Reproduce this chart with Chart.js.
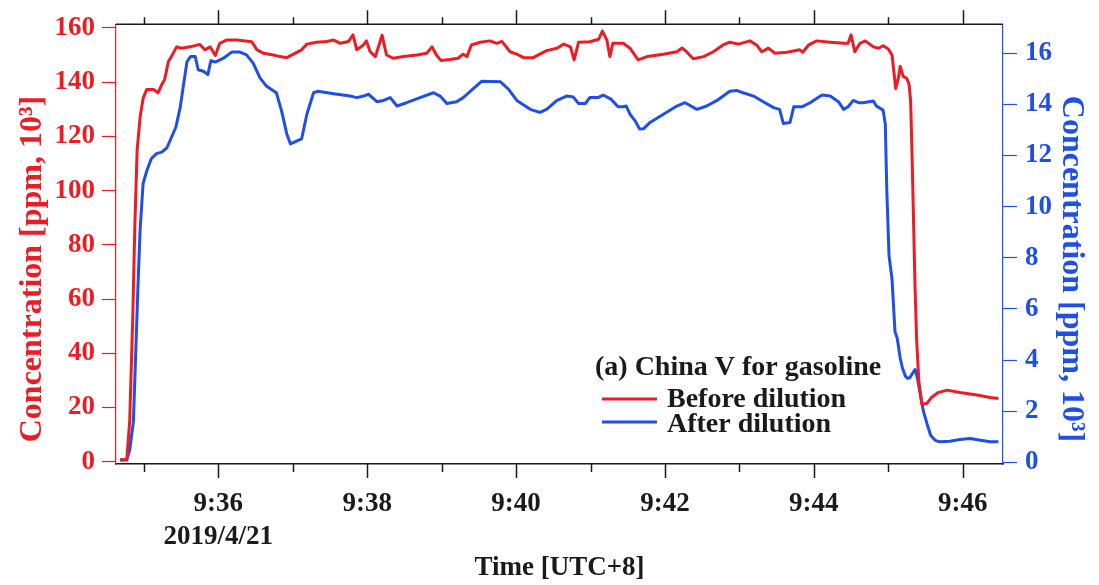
<!DOCTYPE html>
<html><head><meta charset="utf-8">
<script src="https://cdn.jsdelivr.net/npm/chart.js@4.4.1/dist/chart.umd.min.js"></script>
<style>html,body{margin:0;padding:0;background:#fff;}#wrap{width:1099px;height:585px;}</style>
</head><body><div id="wrap"><canvas id="c" width="1099" height="585"></canvas></div>
<script>
// Time in minutes after 09:00 (UTC+8), 2019/4/21
const beforeTime = [34.68,34.77,34.81,34.85,34.88,34.91,34.95,34.99,35.04,35.13,35.19,35.24,35.28,35.33,35.37,35.44,35.51,35.62,35.75,35.82,35.89,35.96,36.02,36.11,36.25,36.45,36.52,36.61,36.74,36.83,36.92,37.03,37.12,37.19,37.32,37.46,37.55,37.64,37.75,37.81,37.86,37.95,37.99,38.04,38.11,38.20,38.26,38.35,38.49,38.67,38.80,38.87,38.93,38.99,39.11,39.22,39.29,39.34,39.40,39.52,39.65,39.74,39.81,39.92,40.01,40.10,40.23,40.32,40.41,40.55,40.64,40.73,40.78,40.84,40.99,41.11,41.16,41.22,41.26,41.30,41.44,41.53,41.64,41.76,41.98,42.16,42.23,42.29,42.38,42.52,42.65,42.78,42.87,42.99,43.14,43.23,43.30,43.39,43.48,43.64,43.81,43.85,43.93,44.04,44.22,44.40,44.46,44.50,44.55,44.62,44.69,44.80,44.87,44.93,45.00,45.05,45.07,45.10,45.14,45.16,45.20,45.25,45.28,45.30,45.32,45.34,45.36,45.38,45.41,45.45,45.52,45.58,45.67,45.79,45.96,46.19,46.37,46.48];
// Before dilution, ppm x10^3 (left axis)
const beforeValue = [0.6,0.6,15,52,88,115,127,134,137.3,137.3,136,139,141,147.6,149.4,153,152.5,153,153.9,151.9,153,149.8,154.3,155.5,155.5,154.9,151.9,150.6,150,149.4,149,150.6,151.9,154,154.7,155,155.5,154.3,155,157.4,151.9,153.7,155.2,151.2,149.4,157.3,150,148.8,149.4,150,150.6,153,150,148,148.3,148.8,150.3,149.4,153.7,154.7,155.2,154.3,155,151.2,150.3,149,149,150.3,151.6,152.5,154,153,148.2,154.7,154.9,155.8,158.8,155.5,149.4,154.3,154.3,152.5,148.2,149.4,150.3,151.2,152.6,151.2,148.6,149.4,151.2,153.7,154.7,154,155.2,153.7,151.2,152.5,150.6,151,151.9,151,153.7,155.2,154.7,154.3,154.3,157.4,151.2,154.3,155.2,153,152.5,153.4,152.2,150,145.2,137.6,142.1,145.8,142.1,141.3,139.1,133,112.4,88,64,45.6,29.8,21.3,21.5,23.7,25.5,26.4,25.5,24.6,23.7,23.3];
const afterTime = [34.68,34.77,34.81,34.86,34.89,34.92,34.95,34.99,35.04,35.10,35.17,35.24,35.31,35.37,35.43,35.49,35.54,35.58,35.63,35.69,35.73,35.80,35.86,35.90,35.96,36.07,36.18,36.29,36.38,36.47,36.56,36.65,36.78,36.85,36.92,36.97,37.05,37.12,37.19,37.28,37.34,37.55,37.77,37.86,37.95,38.02,38.13,38.22,38.31,38.40,38.53,38.71,38.89,38.98,39.07,39.20,39.29,39.40,39.54,39.79,39.90,40.01,40.19,40.32,40.41,40.55,40.68,40.77,40.84,40.93,40.99,41.10,41.17,41.28,41.37,41.44,41.48,41.53,41.60,41.66,41.71,41.80,41.98,42.16,42.27,42.43,42.56,42.70,42.87,42.96,43.05,43.19,43.32,43.46,43.54,43.59,43.68,43.73,43.84,43.95,44.11,44.22,44.33,44.40,44.46,44.53,44.60,44.66,44.80,44.84,44.93,44.96,44.98,45.01,45.05,45.07,45.09,45.12,45.16,45.19,45.23,45.26,45.29,45.33,45.36,45.39,45.43,45.47,45.52,45.57,45.63,45.69,45.83,45.96,46.10,46.24,46.37,46.48];
// After dilution, ppm x10^3 (right axis)
const afterValue = [0.1,0.1,0.47,1.6,4.2,6.8,9.1,10.9,11.4,11.87,12.07,12.13,12.3,12.7,13.1,13.9,14.9,15.67,15.87,15.87,15.35,15.29,15.16,15.7,15.65,15.8,16.04,16.04,15.93,15.6,15.03,14.7,14.45,13.74,12.84,12.45,12.56,12.65,13.61,14.45,14.51,14.41,14.32,14.26,14.32,14.39,14.1,14.15,14.26,13.93,14.06,14.26,14.45,14.32,14.03,14.1,14.26,14.54,14.9,14.88,14.58,14.15,13.8,13.68,13.8,14.15,14.32,14.28,14.03,14.03,14.26,14.26,14.36,14.19,13.9,13.9,13.93,13.61,13.35,13.03,13.04,13.29,13.61,13.93,14.06,13.8,13.93,14.15,14.51,14.54,14.45,14.32,14.1,13.87,13.8,13.25,13.29,13.9,13.9,14.06,14.36,14.32,14.1,13.8,13.9,14.15,14.06,14.06,14.13,13.93,13.77,13.23,10.65,8.08,7.17,6.14,5.11,4.85,4.08,3.69,3.37,3.28,3.31,3.5,3.63,3.31,2.67,2.02,1.51,1.05,0.86,0.8,0.82,0.89,0.93,0.86,0.8,0.8];

const xTickMinutes = [35,36,37,38,39,40,41,42,43,44,45,46];
const xTickLabels = ["",["9:36","2019/4/21"],"","9:38","","9:40","","9:42","","9:44","","9:46"];
const leftTicks = [0,20,40,60,80,100,120,140,160];
const rightTicks = [0,2,4,6,8,10,12,14,16];
const seriesNames = ["Before dilution","After dilution"];
const panelTitle = "(a) China V for gasoline";
const yTitle = "Concentration [ppm, 10\u00B3]";
const xTitle = "Time [UTC+8]";

const RED = '#ec1c24', BLUE = '#1f4fe6', DARK = '#1a1a1a';
const FONT = 'Liberation Serif';

const framePlugin = {
  id: 'frame',
  afterDraw(chart) {
    const {ctx, chartArea: a, scales} = chart;
    const xs = scales.x;
    ctx.save();
    // top frame line
    ctx.strokeStyle = DARK; ctx.lineWidth = 1.5;
    ctx.beginPath(); ctx.moveTo(a.left, a.top); ctx.lineTo(a.right, a.top); ctx.stroke();
    // major / minor ticks on bottom and top
    xTickMinutes.forEach(v => {
      const px = Math.round(xs.getPixelForValue(v)) + 0.5;
      const major = v % 2 === 0;
      ctx.beginPath();
      ctx.moveTo(px, a.bottom); ctx.lineTo(px, a.bottom + (major ? 14 : 8));
      ctx.moveTo(px, a.top); ctx.lineTo(px, a.top - (major ? 14 : 7));
      ctx.stroke();
    });
    // y axis titles
    ctx.font = 'bold 32px "' + FONT + '"';
    ctx.textAlign = 'center'; ctx.textBaseline = 'middle';
    const yc = 269;
    ctx.fillStyle = RED;
    ctx.save(); ctx.translate(33, yc); ctx.rotate(-Math.PI/2); ctx.fillText(yTitle, 0, 0); ctx.restore();
    ctx.fillStyle = BLUE;
    ctx.save(); ctx.translate(1071, yc); ctx.rotate(Math.PI/2); ctx.fillText(yTitle, 0, 0); ctx.restore();
    // legend
    ctx.font = 'bold 28px "' + FONT + '"';
    ctx.textAlign = 'left'; ctx.textBaseline = 'alphabetic';
    ctx.fillStyle = DARK;
    ctx.fillText(panelTitle, 595, 375);
    const rows = [[RED, 399, 406.5], [BLUE, 422, 431.5]];
    rows.forEach((r, i) => {
      ctx.strokeStyle = r[0]; ctx.lineWidth = 3;
      ctx.beginPath(); ctx.moveTo(602, r[1]); ctx.lineTo(657, r[1]); ctx.stroke();
      ctx.fillStyle = DARK;
      ctx.fillText(chart.data.datasets[i].label, 667, r[2]);
    });
    ctx.restore();
  }
};

new Chart(document.getElementById('c'), {
  type: 'line',
  data: {
    datasets: [
      { label: seriesNames[0], data: beforeTime.map((t, i) => ({x: t, y: beforeValue[i]})),
        borderColor: RED, borderWidth: 3, pointRadius: 0, tension: 0, yAxisID: 'y', borderJoinStyle: 'round' },
      { label: seriesNames[1], data: afterTime.map((t, i) => ({x: t, y: afterValue[i]})),
        borderColor: BLUE, borderWidth: 3, pointRadius: 0, tension: 0, yAxisID: 'y2', borderJoinStyle: 'round' }
    ]
  },
  options: {
    responsive: false, animation: false, devicePixelRatio: 1,
    layout: { padding: { top: 19, left: 0, right: 0, bottom: 0 } },
    plugins: { legend: { display: false }, tooltip: { enabled: false } },
    scales: {
      x: {
        type: 'linear', position: 'bottom', min: 34.626, max: 46.541,
        afterBuildTicks: s => { s.ticks = xTickMinutes.map(v => ({value: v})); },
        afterFit: s => { s.height = 121; },
        ticks: { autoSkip: false, maxRotation: 0, minRotation: 0, color: DARK, padding: 10,
          font: { family: FONT, size: 27, weight: 'bold' },
          callback: (v, i) => xTickLabels[i] },
        grid: { display: true, drawOnChartArea: false, drawTicks: true, tickLength: 14, tickColor: 'rgba(0,0,0,0)' },
        border: { display: true, color: DARK, width: 1.5 },
        title: { display: true, text: xTitle, color: DARK, font: { family: FONT, size: 27, weight: 'bold' }, padding: { top: 0, bottom: 1 } }
      },
      y: {
        type: 'linear', position: 'left', min: -0.84, max: 161.35,
        afterBuildTicks: s => { s.ticks = leftTicks.map(v => ({value: v})); },
        afterFit: s => { s.width = 116; },
        ticks: { color: RED, padding: 7, font: { family: FONT, size: 27, weight: 'bold' } },
        grid: { display: true, drawOnChartArea: false, drawTicks: true, tickLength: 14, tickColor: RED, tickWidth: 1.2 },
        border: { display: true, color: RED, width: 1.2 }
      },
      y2: {
        type: 'linear', position: 'right', min: -0.066, max: 17.13,
        afterBuildTicks: s => { s.ticks = rightTicks.map(v => ({value: v})); },
        afterFit: s => { s.width = 96; },
        ticks: { color: BLUE, padding: 8, font: { family: FONT, size: 27, weight: 'bold' } },
        grid: { display: true, drawOnChartArea: false, drawTicks: true, tickLength: 14, tickColor: BLUE, tickWidth: 1.2 },
        border: { display: true, color: BLUE, width: 1.2 }
      }
    }
  },
  plugins: [framePlugin]
});
</script></body></html>
